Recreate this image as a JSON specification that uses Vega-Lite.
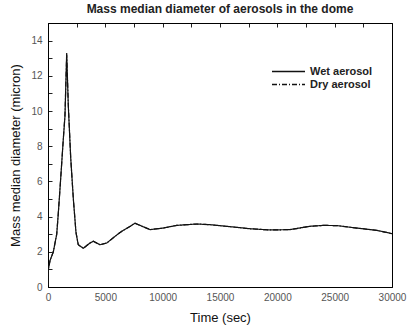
{
  "$schema": "https://vega.github.io/schema/vega-lite/v6.json",
  "autosize": "none",
  "width": 344,
  "height": 264,
  "padding": {"left": 48, "top": 23, "right": 16, "bottom": 48},
  "background": "white",
  "config": {
    "font": "Liberation Sans",
    "view": {"stroke": "#000", "strokeWidth": 1},
    "axis": {"grid": true, "gridColor": "#222", "gridOpacity": 1, "gridWidth": 1, "gridDash": [4, 1000], "domainColor": "#000", "labelColor": "#555", "labelFont": "Liberation Sans", "labelFontSize": 10, "titleFont": "Liberation Sans", "titleColor": "#111", "titleFontWeight": "normal", "titleFontSize": 13}
  },
  "title": {"text": "Mass median diameter of aerosols in the dome", "fontSize": 12, "fontWeight": "bold", "color": "#222", "font": "Liberation Sans", "offset": 7, "anchor": "middle"},
  "data": {"values": [
    {"t": 0, "v": 0.1, "s": "Wet aerosol"},
    {"t": 30, "v": 1.0, "s": "Wet aerosol"},
    {"t": 175, "v": 1.5, "s": "Wet aerosol"},
    {"t": 465, "v": 2.0, "s": "Wet aerosol"},
    {"t": 760, "v": 3.0, "s": "Wet aerosol"},
    {"t": 900, "v": 4.2, "s": "Wet aerosol"},
    {"t": 1100, "v": 6.1, "s": "Wet aerosol"},
    {"t": 1335, "v": 8.4, "s": "Wet aerosol"},
    {"t": 1480, "v": 9.7, "s": "Wet aerosol"},
    {"t": 1630, "v": 13.3, "s": "Wet aerosol"},
    {"t": 1770, "v": 10.3, "s": "Wet aerosol"},
    {"t": 1975, "v": 7.4, "s": "Wet aerosol"},
    {"t": 2210, "v": 5.0, "s": "Wet aerosol"},
    {"t": 2440, "v": 3.1, "s": "Wet aerosol"},
    {"t": 2640, "v": 2.4, "s": "Wet aerosol"},
    {"t": 3080, "v": 2.2, "s": "Wet aerosol"},
    {"t": 3660, "v": 2.5, "s": "Wet aerosol"},
    {"t": 3950, "v": 2.6, "s": "Wet aerosol"},
    {"t": 4530, "v": 2.4, "s": "Wet aerosol"},
    {"t": 5120, "v": 2.5, "s": "Wet aerosol"},
    {"t": 6280, "v": 3.1, "s": "Wet aerosol"},
    {"t": 7590, "v": 3.62, "s": "Wet aerosol"},
    {"t": 8900, "v": 3.26, "s": "Wet aerosol"},
    {"t": 10050, "v": 3.35, "s": "Wet aerosol"},
    {"t": 11220, "v": 3.5, "s": "Wet aerosol"},
    {"t": 12970, "v": 3.58, "s": "Wet aerosol"},
    {"t": 14130, "v": 3.54, "s": "Wet aerosol"},
    {"t": 16160, "v": 3.41, "s": "Wet aerosol"},
    {"t": 17620, "v": 3.31, "s": "Wet aerosol"},
    {"t": 19360, "v": 3.24, "s": "Wet aerosol"},
    {"t": 21100, "v": 3.26, "s": "Wet aerosol"},
    {"t": 22850, "v": 3.45, "s": "Wet aerosol"},
    {"t": 24010, "v": 3.5, "s": "Wet aerosol"},
    {"t": 25170, "v": 3.49, "s": "Wet aerosol"},
    {"t": 26920, "v": 3.35, "s": "Wet aerosol"},
    {"t": 28660, "v": 3.22, "s": "Wet aerosol"},
    {"t": 29530, "v": 3.1, "s": "Wet aerosol"},
    {"t": 30000, "v": 3.03, "s": "Wet aerosol"},
    {"t": 0, "v": 0.1, "s": "Dry aerosol"},
    {"t": 30, "v": 1.0, "s": "Dry aerosol"},
    {"t": 175, "v": 1.5, "s": "Dry aerosol"},
    {"t": 465, "v": 2.0, "s": "Dry aerosol"},
    {"t": 760, "v": 3.0, "s": "Dry aerosol"},
    {"t": 900, "v": 4.2, "s": "Dry aerosol"},
    {"t": 1100, "v": 6.1, "s": "Dry aerosol"},
    {"t": 1335, "v": 8.4, "s": "Dry aerosol"},
    {"t": 1480, "v": 9.8, "s": "Dry aerosol"},
    {"t": 1630, "v": 13.2, "s": "Dry aerosol"},
    {"t": 1770, "v": 10.4, "s": "Dry aerosol"},
    {"t": 1975, "v": 7.4, "s": "Dry aerosol"},
    {"t": 2210, "v": 5.0, "s": "Dry aerosol"},
    {"t": 2440, "v": 3.1, "s": "Dry aerosol"},
    {"t": 2640, "v": 2.4, "s": "Dry aerosol"},
    {"t": 3080, "v": 2.2, "s": "Dry aerosol"},
    {"t": 3660, "v": 2.5, "s": "Dry aerosol"},
    {"t": 3950, "v": 2.6, "s": "Dry aerosol"},
    {"t": 4530, "v": 2.4, "s": "Dry aerosol"},
    {"t": 5120, "v": 2.5, "s": "Dry aerosol"},
    {"t": 6280, "v": 3.1, "s": "Dry aerosol"},
    {"t": 7590, "v": 3.62, "s": "Dry aerosol"},
    {"t": 8900, "v": 3.26, "s": "Dry aerosol"},
    {"t": 10050, "v": 3.35, "s": "Dry aerosol"},
    {"t": 11220, "v": 3.5, "s": "Dry aerosol"},
    {"t": 12970, "v": 3.58, "s": "Dry aerosol"},
    {"t": 14130, "v": 3.54, "s": "Dry aerosol"},
    {"t": 16160, "v": 3.41, "s": "Dry aerosol"},
    {"t": 17620, "v": 3.31, "s": "Dry aerosol"},
    {"t": 19360, "v": 3.24, "s": "Dry aerosol"},
    {"t": 21100, "v": 3.26, "s": "Dry aerosol"},
    {"t": 22850, "v": 3.45, "s": "Dry aerosol"},
    {"t": 24010, "v": 3.5, "s": "Dry aerosol"},
    {"t": 25170, "v": 3.49, "s": "Dry aerosol"},
    {"t": 26920, "v": 3.35, "s": "Dry aerosol"},
    {"t": 28660, "v": 3.22, "s": "Dry aerosol"},
    {"t": 29530, "v": 3.1, "s": "Dry aerosol"},
    {"t": 30000, "v": 3.03, "s": "Dry aerosol"}
  ]},
  "layer": [
    {
      "mark": {"type": "line", "strokeWidth": 1.2, "color": "#111", "clip": true},
      "encoding": {
        "x": {"field": "t", "type": "quantitative", "scale": {"domain": [0, 30000], "nice": false, "zero": false},
          "axis": {"orient": "bottom", "title": "Time (sec)", "values": [0, 2500, 5000, 7500, 10000, 12500, 15000, 17500, 20000, 22500, 25000, 27500, 30000], "labelExpr": "datum.value % 5000 == 0 ? format(datum.value, 'd') : ''", "ticks": false, "labelPadding": 5, "titlePadding": 9, "labelFlush": false}},
        "y": {"field": "v", "type": "quantitative", "scale": {"domain": [0, 15], "nice": false},
          "axis": {"orient": "left", "title": "Mass median diameter (micron)", "values": [0, 1, 2, 3, 4, 5, 6, 7, 8, 9, 10, 11, 12, 13, 14, 15], "labelExpr": "datum.value % 2 == 0 && datum.value < 15 ? format(datum.value, 'd') : ''", "ticks": false, "labelPadding": 6, "titlePadding": 8}},
        "strokeDash": {"field": "s", "type": "nominal", "scale": {"domain": ["Wet aerosol", "Dry aerosol"], "range": [[1, 0], [5, 2, 1, 2]]},
          "legend": {"orient": "none", "legendX": 234, "legendY": 42, "title": null, "symbolType": "M-3,0H3", "symbolSize": 121, "symbolStrokeWidth": 1.3, "symbolStrokeColor": "#111", "labelFontSize": 11, "labelFontWeight": "bold", "labelColor": "#222", "labelFont": "Liberation Sans", "rowPadding": 1, "labelOffset": 15}}
      }
    },
    {
      "mark": {"type": "line", "opacity": 0},
      "encoding": {
        "x": {"field": "t", "type": "quantitative", "axis": {"orient": "top", "title": null, "labels": false, "ticks": false, "values": [0, 2500, 5000, 7500, 10000, 12500, 15000, 17500, 20000, 22500, 25000, 27500, 30000]}},
        "y": {"field": "v", "type": "quantitative", "axis": {"orient": "right", "title": null, "labels": false, "ticks": false, "values": [0, 1, 2, 3, 4, 5, 6, 7, 8, 9, 10, 11, 12, 13, 14, 15]}},
        "detail": {"field": "s"}
      }
    }
  ]
}
